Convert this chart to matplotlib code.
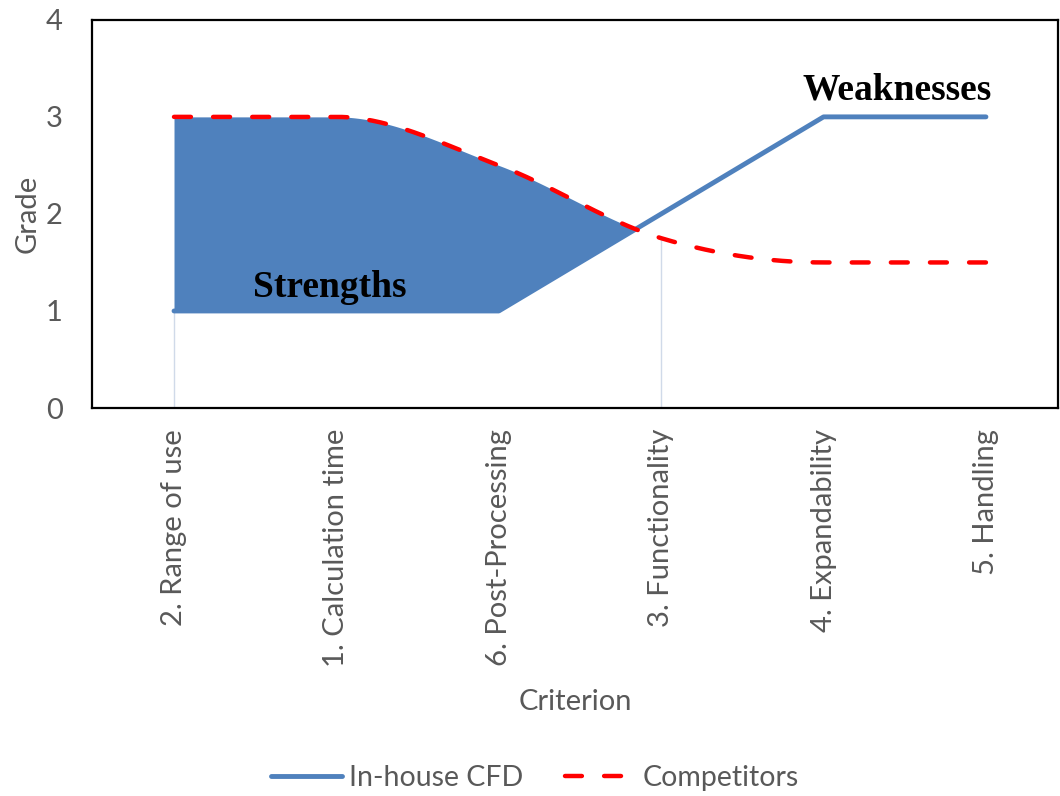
import matplotlib
matplotlib.use("Agg")
import matplotlib.pyplot as plt
import numpy as np

# Criteria and grades
criteria = ["2. Range of use", "1. Calculation time", "6. Post-Processing",
            "3. Functionality", "4. Expandability", "5. Handling"]
inhouse = [1, 1, 1, 2, 3, 3]
competitors = [3, 3, 2.5, 1.75, 1.5, 1.5]

BLUE = "#4F81BD"
RED = "#FF0000"
GREY = "#595959"


def smooth(xv, yv, n=60):
    # cubic hermite curve through the points, flat where a neighbour is level
    xv = np.asarray(xv, float)
    yv = np.asarray(yv, float)
    d = np.diff(yv) / np.diff(xv)
    m = np.zeros_like(yv)
    for i in range(1, len(yv) - 1):
        if d[i - 1] * d[i] > 0:
            m[i] = (d[i - 1] + d[i]) / 2
    xs, ys = [], []
    t = np.linspace(0, 1, n)
    for i in range(len(xv) - 1):
        h = xv[i + 1] - xv[i]
        h00 = 2 * t**3 - 3 * t**2 + 1
        h10 = t**3 - 2 * t**2 + t
        h01 = -2 * t**3 + 3 * t**2
        h11 = t**3 - t**2
        yy = h00 * yv[i] + h10 * h * m[i] + h01 * yv[i + 1] + h11 * h * m[i + 1]
        xx = xv[i] + t * h
        s = 0 if i == 0 else 1
        xs.append(xx[s:])
        ys.append(yy[s:])
    return np.concatenate(xs), np.concatenate(ys)


plt.rcParams["font.family"] = ["Lato", "DejaVu Sans"]
FS = 21

fig = plt.figure(figsize=(10.6, 7.96), dpi=100)
ax = fig.add_axes([0.0868, 0.4874, 0.9112, 0.4877])

x = np.arange(len(criteria))
cx, cy = smooth(x, competitors)
bx = np.interp(cx, x, inhouse)

# shaded strengths area between the two curves
ax.fill_between(cx, bx, cy, where=cy >= bx, interpolate=True, color=BLUE, lw=0, zorder=2)

# faint drop lines
ax.vlines([0], 0, inhouse[0], color="#D0DAE9", lw=1, zorder=1)
ax.vlines([3], 0, competitors[3], color="#D0DAE9", lw=1, zorder=1)

ax.plot(x, inhouse, color=BLUE, lw=3.5, solid_capstyle="round", zorder=3, label="In-house CFD")
ax.plot(cx, cy, color=RED, lw=3.2, dashes=(3.8, 5.0), dash_capstyle="round", zorder=4,
        label="Competitors")

ax.text(0.96, 1.24, "Strengths", family="Liberation Serif", fontweight="bold",
        fontsize=27, ha="center", va="center", zorder=5)
ax.text(4.45, 3.28, "Weaknesses", family="Liberation Serif", fontweight="bold",
        fontsize=27, ha="center", va="center", zorder=5)

ax.set_xlim(-0.505, 5.443)
ax.set_ylim(0, 4)
ax.set_yticks([0, 1, 2, 3, 4])
ax.set_xticks(x)
ax.set_xticklabels(criteria, rotation=90, fontsize=FS, color=GREY)
ax.tick_params(axis="both", length=0, colors=GREY, labelsize=FS)
ax.tick_params(axis="x", pad=15)
ax.tick_params(axis="y", pad=21)
for s in ax.spines.values():
    s.set_color("black")
    s.set_linewidth(1.6)

ax.set_ylabel("Grade", fontsize=FS, color=GREY, labelpad=4)
ax.set_xlabel("Criterion", fontsize=FS, color=GREY, labelpad=15.5)

leg = fig.legend(loc="center", bbox_to_anchor=(535 / 1060, 1 - 778 / 796), ncol=2, frameon=False,
                 fontsize=20.5, handlelength=2.5, columnspacing=1.45, handletextpad=0.25)
for t in leg.get_texts():
    t.set_color(GREY)

fig.savefig("out.png", dpi=100)
